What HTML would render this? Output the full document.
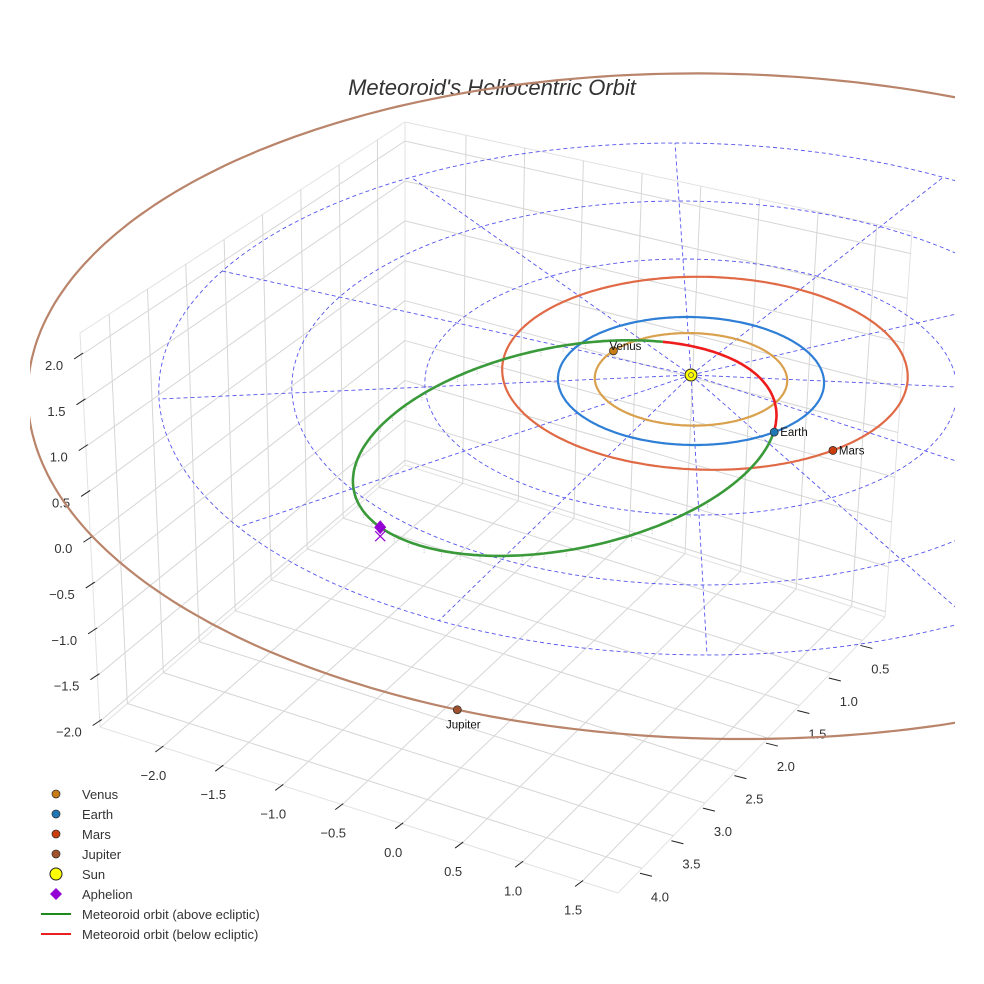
<!DOCTYPE html>
<html><head><meta charset="utf-8">
<style>
html,body{margin:0;padding:0;background:#fff;}
svg{display:block;font-family:"Liberation Sans",sans-serif;}
</style></head>
<body>
<svg id="chart" width="984" height="984" viewBox="0 0 984 984" xmlns="http://www.w3.org/2000/svg">
<defs><clipPath id="clipAx"><rect x="30" y="0" width="925" height="984"/></clipPath></defs>
<text x="492" y="95" text-anchor="middle" font-size="22" font-style="italic" fill="#333">Meteoroid's Heliocentric Orbit</text>
<g id="grid"></g>
<g id="ticks"></g>
<g id="plot" clip-path="url(#clipAx)"></g>
<g id="marks"></g>
<g id="legend"></g>
</svg>
<script>
// ---- data ----
const xTicks = [-2.0,-1.5,-1.0,-0.5,0.0,0.5,1.0,1.5];
const yTicks = [0.5,1.0,1.5,2.0,2.5,3.0,3.5,4.0];
const zTicks = [-2.0,-1.5,-1.0,-0.5,0.0,0.5,1.0,1.5,2.0];
const xRange = [-2.52,1.8];
const yRange = [0.14,4.38];
const zRange = [-2.06,2.24];
const planetNames = ["Venus","Earth","Mars","Jupiter"];
const planetA = [0.723,1.0,1.524,5.2];
const planetOffU = [0,0,0.11,0.215];
const planetOffV = [0,0,-0.17,0];
const planetT = [218,53,52.6,114];
const orbitColors = ["#d9a14e","#2f7fd6","#e06a45","#b9846a"];
const markerColors = ["#c87d14","#1f77b4","#cc3d0c","#a0522d"];
const ringRadii = [1,2,3,4];
const spokeAngles = [0,30,60,90,120,150,180,210,240,270,300,330];
const spokeLength = 4;
// meteoroid orbit (projected ellipse): centre (AU), semi-axes (AU), tilt (deg)
const meteorCenter = [-0.98,1.01];
const meteorAxes = [1.617,0.76];
const meteorTilt = -11.4;
const belowRange = [-57,13];   // parameter range below ecliptic
const aphelionT = 156;

// ---- helpers ----
const NS="http://www.w3.org/2000/svg";
function mk(tag,attrs,parent){const e=document.createElementNS(NS,tag);for(const k in attrs)e.setAttribute(k,attrs[k]);parent.appendChild(e);return e;}
function lerp(a,b,t){return [a[0]+(b[0]-a[0])*t,a[1]+(b[1]-a[1])*t];}
function quad(p00,p10,p01,p11,s,t){return lerp(lerp(p00,p10,s),lerp(p01,p11,s),t);}
const A=[100,727],B=[405,465],C=[885,617],D=[618,893],Ap=[80,333],Bp=[405,122],Cp=[912,232];
function fx(x){return (x-xRange[0])/(xRange[1]-xRange[0]);}
function fy(y){return (y-yRange[0])/(yRange[1]-yRange[0]);}
function fz(z){return (z-zRange[0])/(zRange[1]-zRange[0]);}
function floorP(s,t){return quad(B,C,A,D,s,t);}
function leftP(s,t){return quad(B,A,Bp,Ap,s,t);}
function backP(s,t){return quad(B,C,Bp,Cp,s,t);}
function proj(u,v){return [691+133*u+4*v,375+64*v+6*Math.hypot(u,v)];}
function pts(arr){return arr.map(p=>p[0].toFixed(1)+","+p[1].toFixed(1)).join(" ");}

const grid=document.getElementById('grid');
function gl(p,q,name,col){const l=mk('line',{x1:p[0],y1:p[1],x2:q[0],y2:q[1],stroke:col||'#d6d6d6','stroke-width':1},grid);

}
[[A,B],[B,C],[B,Bp],[A,Ap],[C,Cp],[Ap,Bp],[Bp,Cp],[A,D],[D,C]].forEach(e=>gl(e[0],e[1],'pane-edge','#e2e2e2'));
xTicks.forEach(x=>{const s=fx(x);gl(floorP(s,0),floorP(s,1),'floor-gridline-x');gl(backP(s,0),backP(s,1),'back-gridline-x');});
yTicks.forEach(y=>{const t=fy(y);gl(floorP(0,t),floorP(1,t),'floor-gridline-y');gl(leftP(t,0),leftP(t,1),'left-gridline-y');});
zTicks.forEach(z=>{const t=fz(z);gl(leftP(0,t),leftP(1,t),'left-gridline-z');gl(backP(0,t),backP(1,t),'back-gridline-z');});

const tk=document.getElementById('ticks');
function tickMark(p,d1,d2,name){const l=mk('line',{x1:p[0]+d1[0],y1:p[1]+d1[1],x2:p[0]+d2[0],y2:p[1]+d2[1],stroke:'#222','stroke-width':1},tk);

}
function lab(x,y,txt,anchor,name){const t=mk('text',{x:x,y:y,'font-size':13,fill:'#333','text-anchor':anchor},tk);t.textContent=txt;

}
function fmt(v){return (v<0?"\u2212":"")+Math.abs(v).toFixed(1);}
xTicks.forEach(x=>{const p=floorP(fx(x),1);tickMark(p,[-7,5],[1,-1],'x-tick');lab(p[0]-9,p[1]+33,fmt(x),'middle','x-tick-label');});
yTicks.forEach(y=>{const p=floorP(1,fy(y));tickMark(p,[-2,5],[10,8],'y-tick');lab(p[0]+18,p[1]+33,fmt(y),'middle','y-tick-label');});
zTicks.forEach(z=>{const p=leftP(1,fz(z));tickMark(p,[-7,4],[2,-2],'z-tick');lab(p[0]-18,p[1]+15,fmt(z),'end','z-tick-label');});

const plot=document.getElementById('plot');
ringRadii.forEach(r=>{const a=[];for(let i=0;i<=240;i++){const th=i/240*2*Math.PI;a.push(proj(r*Math.cos(th),r*Math.sin(th)));}
const e=mk('polyline',{points:pts(a),fill:'none',stroke:'#5555ee','stroke-width':0.9,'stroke-dasharray':'4,3'},plot);

});
spokeAngles.forEach(d=>{const th=d*Math.PI/180;const p=proj(0,0),q=proj(spokeLength*Math.cos(th),spokeLength*Math.sin(th));
const e=mk('line',{x1:p[0],y1:p[1],x2:q[0],y2:q[1],stroke:'#5555ee','stroke-width':0.9,'stroke-dasharray':'4,3'},plot);

});
planetNames.forEach((n,i)=>{const a=[];for(let k=0;k<=360;k++){const t=k*Math.PI/180;a.push(proj(planetOffU[i]+planetA[i]*Math.cos(t),planetOffV[i]+planetA[i]*Math.sin(t)));}
const e=mk('polyline',{points:pts(a),fill:'none',stroke:orbitColors[i],'stroke-width':2.2},plot);

});

// meteoroid orbit
const mc=proj(meteorCenter[0],meteorCenter[1]);
function meteorPt(tDeg){const t=tDeg*Math.PI/180, r=meteorTilt*Math.PI/180;
const la=meteorAxes[0]*133*Math.cos(t), lb=meteorAxes[1]*133*Math.sin(t);
return [mc[0]+la*Math.cos(r)-lb*Math.sin(r), mc[1]+la*Math.sin(r)+lb*Math.cos(r)];}
const g=[],rd=[];
for(let t=belowRange[1];t<=belowRange[0]+360;t+=1)g.push(meteorPt(t));
for(let t=belowRange[0];t<=belowRange[1];t+=1)rd.push(meteorPt(t));
for(let t=belowRange[1]+40;t<=belowRange[0]+340;t+=6){const p=meteorPt(t);
const s=mk('line',{x1:p[0],y1:p[1],x2:p[0],y2:p[1]+7,stroke:'#bbbbbb','stroke-width':1,'stroke-dasharray':'1,1.5'},plot);

}
const gEl=mk('polyline',{points:pts(g),fill:'none',stroke:'#3a9a3a','stroke-width':2.6},plot);


const rEl=mk('polyline',{points:pts(rd),fill:'none',stroke:'#ee1c1c','stroke-width':2.6},plot);



const mg=document.getElementById('marks');
planetNames.forEach((n,i)=>{const t=planetT[i]*Math.PI/180;const p=proj(planetOffU[i]+planetA[i]*Math.cos(t),planetOffV[i]+planetA[i]*Math.sin(t));
const c=mk('circle',{cx:p[0],cy:p[1],r:4,fill:markerColors[i],stroke:'#333','stroke-width':0.8},mg);


let tx,ty,an='start';
if(n==='Jupiter'){tx=p[0]+6;ty=p[1]+19;an='middle';}else if(n==='Venus'){tx=p[0]-4;ty=p[1]-1;}else{tx=p[0]+6;ty=p[1]+4;}
const t2=mk('text',{x:tx,y:ty,'font-size':11.5,fill:'#111','text-anchor':an},mg);t2.textContent=n;

});
const sp=proj(0,0);
const sun=mk('circle',{cx:sp[0],cy:sp[1],r:6,fill:'#ffff00',stroke:'#222','stroke-width':1},mg);


mk('circle',{cx:sp[0],cy:sp[1],r:2.5,fill:'none',stroke:'#555','stroke-width':0.8},mg);
const ap=meteorPt(aphelionT);
const apx=ap[0], apy=ap[1];
const dia=mk('polygon',{points:pts([[apx,apy-7],[apx+6,apy],[apx,apy+7],[apx-6,apy]]),fill:'#9400d3'},mg);


const xm=mk('path',{d:`M${apx-5} ${apy+4}L${apx+5} ${apy+14}M${apx+5} ${apy+4}L${apx-5} ${apy+14}`,stroke:'#9400d3','stroke-width':1.2,fill:'none'},mg);



const lg=document.getElementById('legend');
const legLabels=["Venus","Earth","Mars","Jupiter","Sun","Aphelion","Meteoroid orbit (above ecliptic)","Meteoroid orbit (below ecliptic)"];
legLabels.forEach((txt,i)=>{const y=794+i*20;
const grp=mk('g',{},lg);


if(i<4){mk('circle',{cx:56,cy:y,r:4,fill:markerColors[i],stroke:'#333','stroke-width':0.8},grp);}
else if(i===4){mk('circle',{cx:56,cy:y,r:6,fill:'#ffff00',stroke:'#222','stroke-width':1},grp);}
else if(i===5){mk('polygon',{points:pts([[56,y-6],[62,y],[56,y+6],[50,y]]),fill:'#9400d3'},grp);}
else{mk('line',{x1:41,y1:y,x2:71,y2:y,stroke:i===6?'#1e8a1e':'#e82020','stroke-width':2},grp);}
const t=mk('text',{x:82,y:y+5,'font-size':13,fill:'#333'},grp);t.textContent=txt;});
</script>
</body></html>
